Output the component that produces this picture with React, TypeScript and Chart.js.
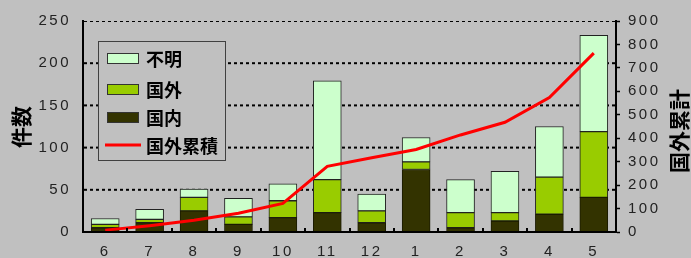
import React, { useEffect, useRef } from 'react';
import { Chart, registerables } from 'chart.js';

Chart.register(...registerables);

const months = ['6', '7', '8', '9', '10', '11', '12', '1', '2', '3', '4', '5'];
const domestic = [5, 11, 25, 9, 17, 23, 11, 74, 5, 13, 21, 41];
const foreign = [4, 4, 16, 9, 20, 39, 14, 9, 18, 10, 44, 78];
const unknown = [7, 12, 10, 22, 20, 117, 20, 29, 39, 49, 60, 114];
const foreignCumulative = [8, 27, 50, 80, 122, 280, 317, 352, 414, 468, 573, 763];
const leftTicks = [0, 50, 100, 150, 200, 250];
const rightTicks = [0, 100, 200, 300, 400, 500, 600, 700, 800, 900];
const leftTitle = '件数';
const rightTitle = '国外累計';
const legendLabels = ['不明', '国外', '国内', '国外累積'];

const BG = '#c0c0c0';
const C_UNKNOWN = '#ccffcc';
const C_FOREIGN = '#99cc00';
const C_DOMESTIC = '#333300';
const C_LINE = '#ff0000';
const CJK = '"Noto Sans CJK JP", "Noto Sans", sans-serif';

const decor = {
  id: 'decor',
  beforeDraw(chart: any) {
    chart.ctx.letterSpacing = '2.5px';
  },
  afterDraw(chart: any) {
    const ctx = chart.ctx;
    ctx.letterSpacing = '0px';
    const area = chart.chartArea;
    const xs = chart.scales.x;
    ctx.save();
    // small inner tick marks at category boundaries
    ctx.fillStyle = '#000000';
    for (let i = 1; i < months.length; i++) {
      const x = Math.round((xs.getPixelForValue(i - 1) + xs.getPixelForValue(i)) / 2);
      ctx.fillRect(x - 1, area.bottom - 4, 2, 4);
    }
    // legend box
    const bx = 98.5, by = 41.5, bw = 127, bh = 119;
    ctx.fillStyle = BG;
    ctx.fillRect(bx, by, bw, bh);
    ctx.strokeStyle = '#404040';
    ctx.lineWidth = 1;
    ctx.strokeRect(bx, by, bw, bh);
    const rowY = [58, 89, 117, 145];
    const swatch = [C_UNKNOWN, C_FOREIGN, C_DOMESTIC];
    for (let i = 0; i < 3; i++) {
      ctx.fillStyle = swatch[i];
      ctx.fillRect(107, rowY[i] - 5, 32, 10);
      ctx.strokeStyle = '#333';
      ctx.lineWidth = 1;
      ctx.strokeRect(107.5, rowY[i] - 5 + 0.5, 31, 10);
    }
    ctx.strokeStyle = C_LINE;
    ctx.lineWidth = 3;
    ctx.beginPath();
    ctx.moveTo(105, rowY[3]);
    ctx.lineTo(141, rowY[3]);
    ctx.stroke();
    ctx.fillStyle = '#000';
    ctx.font = `bold 18px ${CJK}`;
    ctx.textBaseline = 'middle';
    ctx.textAlign = 'left';
    for (let i = 0; i < 4; i++) ctx.fillText(legendLabels[i], 146, rowY[i] + 1);
    // axis titles
    ctx.font = `bold 21px ${CJK}`;
    ctx.textAlign = 'center';
    ctx.save();
    ctx.translate(21, 127);
    ctx.rotate(-Math.PI / 2);
    ctx.fillText(leftTitle, 0, 0);
    ctx.restore();
    ctx.save();
    ctx.translate(679, 131);
    ctx.rotate(-Math.PI / 2);
    ctx.fillText(rightTitle, 0, 0);
    ctx.restore();
    ctx.restore();
  },
};

export default function App() {
  const ref = useRef<HTMLCanvasElement>(null);
  useEffect(() => {
    if (!ref.current) return;
    Chart.defaults.font.family = '"Liberation Sans", Arial, sans-serif';
    Chart.defaults.font.size = 15;
    Chart.defaults.color = '#222';
    // dashed horizontal grid lines: line datasets running past both edges, clipped to the plot area
    const gridSets = leftTicks.slice(1).map((v) => ({
      type: 'line',
      label: 'grid' + v,
      data: [{ x: -1, y: v }, { x: 2, y: v }],
      xAxisID: 'xg',
      yAxisID: 'yg',
      borderColor: '#000000',
      borderWidth: 2,
      borderDash: [3, 3],
      pointRadius: 0,
      fill: false,
      clip: 0,
      order: 5,
    }));
    const barCommon = {
      borderWidth: 1,
      borderSkipped: false,
      grouped: false,
      barThickness: 28,
      xAxisID: 'x',
      yAxisID: 'y',
      order: 1,
    };
    const chart = new Chart(ref.current, {
      type: 'bar',
      data: {
        labels: months,
        datasets: [
          {
            type: 'line',
            label: legendLabels[3],
            data: foreignCumulative,
            xAxisID: 'x',
            yAxisID: 'y1',
            borderColor: C_LINE,
            borderWidth: 3,
            pointRadius: 0,
            tension: 0,
            fill: false,
            order: 0,
          } as any,
          { ...barCommon, label: legendLabels[2], data: domestic, backgroundColor: C_DOMESTIC, borderColor: '#1a1a00' },
          { ...barCommon, label: legendLabels[1], data: foreign, backgroundColor: C_FOREIGN, borderColor: '#222' },
          { ...barCommon, label: legendLabels[0], data: unknown, backgroundColor: C_UNKNOWN, borderColor: '#222' },
          ...(gridSets as any[]),
        ],
      },
      options: {
        responsive: false,
        animation: false,
        devicePixelRatio: 1,
        layout: { padding: { top: 19, left: 0, right: 0, bottom: 0 } },
        plugins: { legend: { display: false }, tooltip: { enabled: false } },
        scales: {
          x: {
            type: 'category',
            stacked: true,
            offset: true,
            grid: { display: false, drawTicks: false },
            border: { display: true, color: '#000', width: 2, z: 1 },
            ticks: { padding: 11, color: '#222', font: { size: 15 } },
            afterFit: (s: any) => { s.height = 26; },
          },
          xg: { type: 'linear', display: false, offset: false, grid: { offset: false }, min: 0, max: 1 },
          yg: { type: 'linear', display: false, min: 0, max: 250 },
          y: {
            type: 'linear',
            stacked: true,
            position: 'left',
            min: 0,
            max: 250,
            ticks: { stepSize: 50, padding: 12, color: '#222', font: { size: 15 } },
            grid: { display: false, drawTicks: false },
            border: { display: true, color: '#000', width: 2 },
            afterFit: (s: any) => { s.width = 83; },
          },
          y1: {
            type: 'linear',
            stacked: false,
            position: 'right',
            min: 0,
            max: 900,
            ticks: { stepSize: 100, padding: 8, color: '#222', font: { size: 15 } },
            grid: { drawOnChartArea: false, drawTicks: true, tickLength: 4, tickColor: '#000', tickWidth: 1.5 },
            border: { display: true, color: '#000', width: 2 },
            afterFit: (s: any) => { s.width = 75; },
          },
        },
      } as any,
      plugins: [decor],
    });
    return () => chart.destroy();
  }, []);
  return (
    <div style={{ position: 'absolute', left: 0, top: 0, width: 691, height: 258, background: BG }}>
      <canvas ref={ref} width={691} height={258} style={{ display: 'block' }} />
    </div>
  );
}
